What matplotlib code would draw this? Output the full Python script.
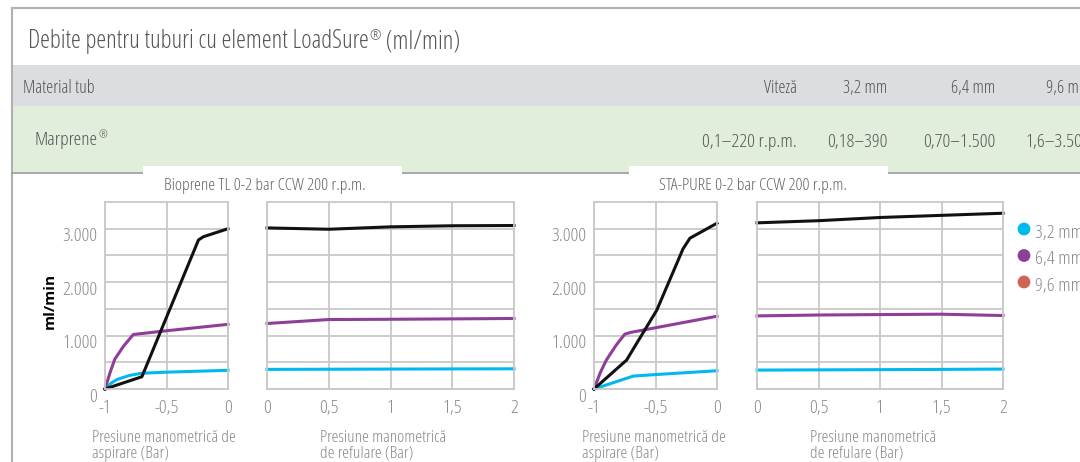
import matplotlib
matplotlib.use('Agg')
from matplotlib import pyplot as plt
from matplotlib import font_manager
from matplotlib.font_manager import FontProperties
from matplotlib.patches import Rectangle, Circle
from matplotlib.transforms import ScaledTranslation

# ---- data ----
legend_labels = ['3,2 mm', '6,4 mm', '9,6 mm']
colors = ['#00b9ef', '#8e3e98', '#cf6357']
line_colors = ['#00b9ef', '#8e3e98', '#111111']

# Bioprene TL, suction side (x = -1..0 bar)
bio_asp_32_x = [-1, -0.95, -0.9, -0.8, -0.7, -0.5, 0]
bio_asp_32 = [0, 110, 180, 255, 295, 315, 350]
bio_asp_64_x = [-1, -0.96, -0.92, -0.85, -0.77, -0.5, 0]
bio_asp_64 = [0, 300, 560, 800, 1020, 1090, 1210]
bio_asp_96_x = [-1, -0.7, -0.24, -0.2, 0]
bio_asp_96 = [0, 230, 2790, 2850, 3000]
# Bioprene TL, discharge side (x = 0..2 bar)
bio_ref_x = [0, 0.5, 1, 1.5, 2]
bio_ref_32 = [367, 370, 373, 376, 378]
bio_ref_64 = [1226, 1300, 1305, 1312, 1320]
bio_ref_96 = [3015, 2990, 3035, 3055, 3060]

# STA-PURE, suction side
sta_asp_32_x = [-1, -0.68, -0.5, 0]
sta_asp_32 = [0, 242, 270, 342]
sta_asp_64_x = [-1, -0.95, -0.9, -0.82, -0.75, -0.7, 0]
sta_asp_64 = [0, 300, 540, 820, 1026, 1060, 1362]
sta_asp_96_x = [-1, -0.735, -0.67, -0.49, -0.38, -0.276, -0.22, 0]
sta_asp_96 = [0, 541, 790, 1474, 2065, 2624, 2823, 3103]
# STA-PURE, discharge side
sta_ref_x = [0, 0.5, 1, 1.5, 2]
sta_ref_32 = [354, 358, 362, 367, 373]
sta_ref_64 = [1368, 1385, 1393, 1400, 1375]
sta_ref_96 = [3110, 3150, 3210, 3250, 3290]

asp_ticks = [-1, -0.5, 0]
asp_ticklabels = ['-1', '-0,5', '0']
ref_ticks = [0, 0.5, 1, 1.5, 2]
ref_ticklabels = ['0', '0,5', '1', '1,5', '2']
y_ticks = [0, 500, 1000, 1500, 2000, 2500, 3000]
y_ticklabels = ['0', '', '1.000', '', '2.000', '', '3.000']

header_cols = ['Viteză', '3,2 mm', '6,4 mm', '9,6 mm']
row_cols = ['0,1–220 r.p.m.', '0,18–390', '0,70–1.500', '1,6–3.500']


# ---- fonts: condensed light look ----
def find_font(weight):
    for f in font_manager.fontManager.ttflist:
        if f.name == 'Open Sans' and f.style == 'normal' and f.stretch == 'condensed' and f.weight == weight:
            return f.fname
    return None


light_file = find_font(300)
bold_file = find_font(700)


def fp(size, bold=False):
    fname = bold_file if bold else light_file
    if fname:
        return FontProperties(fname=fname, size=size)
    return FontProperties(family='Open Sans', size=size, weight='bold' if bold else 'light')


W, H = 1080, 462
fig = plt.figure(figsize=(W / 100, H / 100), dpi=100)
renderer = fig.canvas.get_renderer()

# background layer in pixel coordinates
bg = fig.add_axes([0, 0, 1, 1])
bg.set_xlim(0, W)
bg.set_ylim(H, 0)
bg.axis('off')

bg.add_patch(Rectangle((12, 65), W - 12, 41, color='#dcdde0', lw=0))
bg.add_patch(Rectangle((12, 106), W - 12, 66, color='#e2eedc', lw=0))
bg.plot([12, W], [8, 8], color='#b0b0b0', lw=1.5)
bg.plot([12, 12], [8, H], color='#b0b0b0', lw=1.5)
bg.plot([12, W], [173, 173], color='#9a9a9a', lw=1.2)
bg.add_patch(Rectangle((143, 166), 259, 14, color='white', lw=0, zorder=3))
bg.add_patch(Rectangle((629, 166), 259, 14, color='white', lw=0, zorder=3))


def reg_text(x, y, before, after, size, color):
    # text with a small raised ® sign
    t = bg.text(x, y, before, fontproperties=fp(size), color=color, va='center', ha='left')
    x1 = t.get_window_extent(renderer=renderer).x1
    r = bg.text(x1 + 0.5, y - size * 0.28, '®', fontproperties=fp(size * 0.55), color=color,
                va='center', ha='left')
    x2 = r.get_window_extent(renderer=renderer).x1
    if after:
        bg.text(x2, y, after, fontproperties=fp(size), color=color, va='center', ha='left')


reg_text(28, 42, 'Debite pentru tuburi cu element LoadSure', ' (ml/min)', 18, '#555555')
bg.text(23, 88, 'Material tub', fontproperties=fp(13), color='#555555', va='center')
reg_text(35, 140, 'Marprene', '', 14, '#555555')
col_right = [797, 887, 995, 1090]
for xr, h, r in zip(col_right, header_cols, row_cols):
    bg.text(xr, 88, h, fontproperties=fp(13), color='#555555', va='center', ha='right')
    bg.text(xr, 142, r, fontproperties=fp(14), color='#555555', va='center', ha='right')

bg.text(265, 186, 'Bioprene TL 0-2 bar CCW 200 r.p.m.', fontproperties=fp(12.5), color='#666666',
        va='center', ha='center', zorder=4)
bg.text(753, 186, 'STA-PURE 0-2 bar CCW 200 r.p.m.', fontproperties=fp(12.5), color='#666666',
        va='center', ha='center', zorder=4)
bg.text(50, 301, 'ml/min', fontproperties=fp(11, bold=True), color='black', rotation=90,
        va='center', ha='center')

for x0, txt in [(92, 'Presiune manometrică de\naspirare (Bar)'), (320, 'Presiune manometrică\nde refulare (Bar)'),
                (582, 'Presiune manometrică de\naspirare (Bar)'), (810, 'Presiune manometrică\nde refulare (Bar)')]:
    bg.text(x0, 446, txt, fontproperties=fp(12.5), color='#8a8a8a', va='center', ha='left', linespacing=1.0)

# legend
for i, (lab, c) in enumerate(zip(legend_labels, colors)):
    yy = 229 + i * 26.5
    bg.add_patch(Circle((1024, yy), 6.4, color=c, lw=0))
    bg.text(1035, yy + 4, lab, fontproperties=fp(14), color='#8a8a8a', va='center', ha='left')


def px_axes(x0, x1, y_top, y_bot):
    return fig.add_axes([x0 / W, 1 - y_bot / H, (x1 - x0) / W, (y_bot - y_top) / H])


grid_c = '#c8c8c8'
shift = ScaledTranslation(0, -4 / 72, fig.dpi_scale_trans)


def style(ax, xlim, xticks, xlabels, show_y):
    ax.set_facecolor('none')
    ax.set_xlim(*xlim)
    ax.set_ylim(0, 3500)
    ax.set_xticks(xticks)
    ax.set_xticklabels(xlabels)
    ax.set_yticks(y_ticks)
    ax.set_yticklabels(y_ticklabels if show_y else [''] * len(y_ticks))
    ax.grid(True, color=grid_c, lw=1.3)
    ax.set_axisbelow(True)
    for s in ax.spines.values():
        s.set_color(grid_c)
        s.set_linewidth(1.3)
    ax.tick_params(length=0, colors='#8a8a8a')
    ax.tick_params(axis='x', pad=7)
    ax.tick_params(axis='y', pad=5.5)
    for lab in ax.get_xticklabels():
        lab.set_fontproperties(fp(14))
    for lab in ax.get_yticklabels():
        lab.set_fontproperties(fp(14))
        lab.set_transform(lab.get_transform() + shift)


panels = [
    ((105, 228), (-1, 0), asp_ticks, asp_ticklabels, True,
     [(bio_asp_32_x, bio_asp_32), (bio_asp_64_x, bio_asp_64), (bio_asp_96_x, bio_asp_96)]),
    ((267, 514), (0, 2), ref_ticks, ref_ticklabels, False,
     [(bio_ref_x, bio_ref_32), (bio_ref_x, bio_ref_64), (bio_ref_x, bio_ref_96)]),
    ((594, 717), (-1, 0), asp_ticks, asp_ticklabels, True,
     [(sta_asp_32_x, sta_asp_32), (sta_asp_64_x, sta_asp_64), (sta_asp_96_x, sta_asp_96)]),
    ((757, 1003), (0, 2), ref_ticks, ref_ticklabels, False,
     [(sta_ref_x, sta_ref_32), (sta_ref_x, sta_ref_64), (sta_ref_x, sta_ref_96)]),
]

for (x0, x1), xlim, xt, xl, show_y, series in panels:
    ax = px_axes(x0, x1, 202, 389)
    style(ax, xlim, xt, xl, show_y)
    for (xs, ys), c in zip(series, line_colors):
        ax.plot(xs, ys, color=c, lw=2.2, solid_joinstyle='round', clip_on=False)

fig.savefig('out.png', dpi=100)
